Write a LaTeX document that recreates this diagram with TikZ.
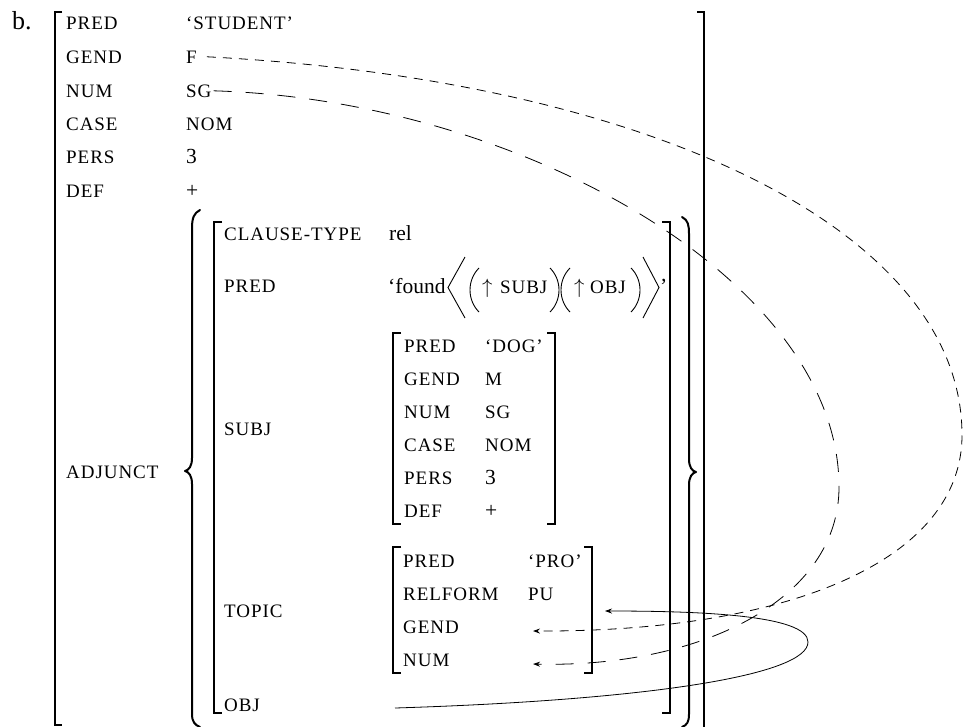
\documentclass[tikz,border=0pt]{standalone}
\usepackage{fontspec}
\setmainfont{Liberation Serif}
\newfontfamily\scfont[LetterSpace=5]{Liberation Serif}
\usetikzlibrary{arrows.meta}
\begin{document}
\begin{tikzpicture}[x=1pt,y=-1pt,
  att/.style={font=\scfont\fontsize{19}{21}\selectfont, inner sep=0pt, anchor=base west},
  val/.style={font=\fontsize{21.5}{24}\selectfont, inner sep=0pt, anchor=base west},
  brk/.style={line width=1.6pt},
  brc/.style={line width=2pt, line cap=round, line join=round},
  delim/.style={line width=0.9pt},
  sdash/.style={line width=0.8pt, dash pattern=on 9pt off 7pt},
  ldash/.style={line width=0.8pt, dash pattern=on 18pt off 14pt},
  tip/.style={-{Stealth[length=7pt,width=5pt]}}
]
\useasboundingbox (0,0) rectangle (965,726);
\fill[white] (0,0) rectangle (965,726);

% label b.
\node[inner sep=0pt, anchor=base west, font=\fontsize{26}{28}\selectfont] (lbl) at (12,29) {b.};

% outer bracket
\draw[brk] (62,12) -- (55,12) -- (55,725) -- (62,725);
\draw[brk] (697,12) -- (704,12) -- (704,728);

% top block
\node[att] (a1) at (66,29.3) {PRED};   \node[att] (v1) at (186,29.3) {‘STUDENT’};
\node[att] (a2) at (66,63) {GEND};     \node[att] (fval) at (186,63) {F};
\node[att] (a3) at (66,97) {NUM};      \node[att] (sgval) at (186,97) {SG};
\node[att] (a4) at (66,130) {CASE};    \node[att] (v4) at (186,130) {NOM};
\node[att] (a5) at (66,163) {PERS};    \node[val] (v5) at (186,163) {3};
\node[att] (a6) at (66,197) {DEF};     \node[val] (v6) at (186,197) {+};
\node[att] (adj) at (66,478) {ADJUNCT};

% curly braces
\draw[brc] (200,210) .. controls (194,213) and (192,218) .. (192,228) -- (192,458)
  .. controls (192,466) and (189,470) .. (185,471)
  .. controls (189,472) and (192,476) .. (192,484) -- (192,714)
  .. controls (192,722) and (195,725) .. (200,727);
\draw[brc] (682,217) .. controls (688,220) and (689,225) .. (689,234) -- (689,459)
  .. controls (689,467) and (692,471) .. (696,472)
  .. controls (692,473) and (689,477) .. (689,485) -- (689,714)
  .. controls (689,722) and (687,725) .. (682,727);

% inner bracket
\draw[brk] (222,222) -- (214,222) -- (214,713) -- (222,713);
\draw[brk] (662,222) -- (670,222) -- (670,713) -- (662,713);

\node[att] (ct) at (224,240) {CLAUSE-TYPE};  \node[val] (rel) at (389,240) {rel};
\node[att] (pr) at (224,292) {PRED};
\node[att] (subj) at (224,435) {SUBJ};
\node[att] (topic) at (224,617) {TOPIC};
\node[att] (obj) at (224,711) {OBJ};

% found line
\node[val] (found) at (388,293) {‘found};
\draw[delim] (465,257) -- (448,287.5) -- (465,318);
\draw[delim] (479,268) .. controls (467,280) and (467,300) .. (479,312);
\node[val] (up1) at (482,293) {$\uparrow$};
\node[att] (fs) at (500,293) {SUBJ};
\draw[delim] (550,268) .. controls (562,280) and (562,300) .. (550,312);
\draw[delim] (570,268) .. controls (558,280) and (558,300) .. (570,312);
\node[val] (up2) at (574,293) {$\uparrow$};
\node[att] (fo) at (590,293) {OBJ};
\draw[delim] (631,268) .. controls (643,280) and (643,300) .. (631,312);
\draw[delim] (643,257) -- (659,287.5) -- (643,318);
\node[val] (q) at (660,293) {’};

% DOG box
\draw[brk] (401,333) -- (393,333) -- (393,524) -- (401,524);
\draw[brk] (547,333) -- (555,333) -- (555,524) -- (547,524);
\node[att] (d1) at (404,352) {PRED};  \node[att] (dv1) at (485,352) {‘DOG’};
\node[att] (d2) at (404,385) {GEND};  \node[att] (dv2) at (485,385) {M};
\node[att] (d3) at (404,418) {NUM};   \node[att] (dv3) at (485,418) {SG};
\node[att] (d4) at (404,451) {CASE};  \node[att] (dv4) at (485,451) {NOM};
\node[att] (d5) at (404,484) {PERS};  \node[val] (dv5) at (485,484) {3};
\node[att] (d6) at (404,517) {DEF};   \node[val] (dv6) at (485,517) {+};

% PRO box
\draw[brk] (401,547) -- (393,547) -- (393,673) -- (401,673);
\draw[brk] (584,547) -- (592,547) -- (592,673) -- (584,673);
\node[att] (p1) at (403,567) {PRED};     \node[att] (pv1) at (528,567) {‘PRO’};
\node[att] (p2) at (403,600) {RELFORM};  \node[att] (pv2) at (528,600) {PU};
\node[att] (p3) at (403,633) {GEND};
\node[att] (p4) at (403,666) {NUM};

% connector endpoints
\coordinate (gendtip) at (533,631);
\coordinate (numtip) at (533,664);
\coordinate (topictip) at (605,611);
\coordinate (objstart) at (395,708);

% dashed links
\draw[sdash, tip] ([xshift=10pt]fval.east) .. controls (650,80) and (962,230) .. (962,435)
  .. controls (962,560) and (790,632) .. (gendtip);
\draw[ldash, tip] ([xshift=2pt]sgval.east) .. controls (520,100) and (839,280) .. (839,487)
  .. controls (839,600) and (700,668) .. (numtip);
% solid link
\draw[line width=0.8pt, tip] (objstart) .. controls (650,700) and (808,675) .. (808,642)
  .. controls (808,615) and (700,611) .. (topictip);
\end{tikzpicture}
\end{document}
